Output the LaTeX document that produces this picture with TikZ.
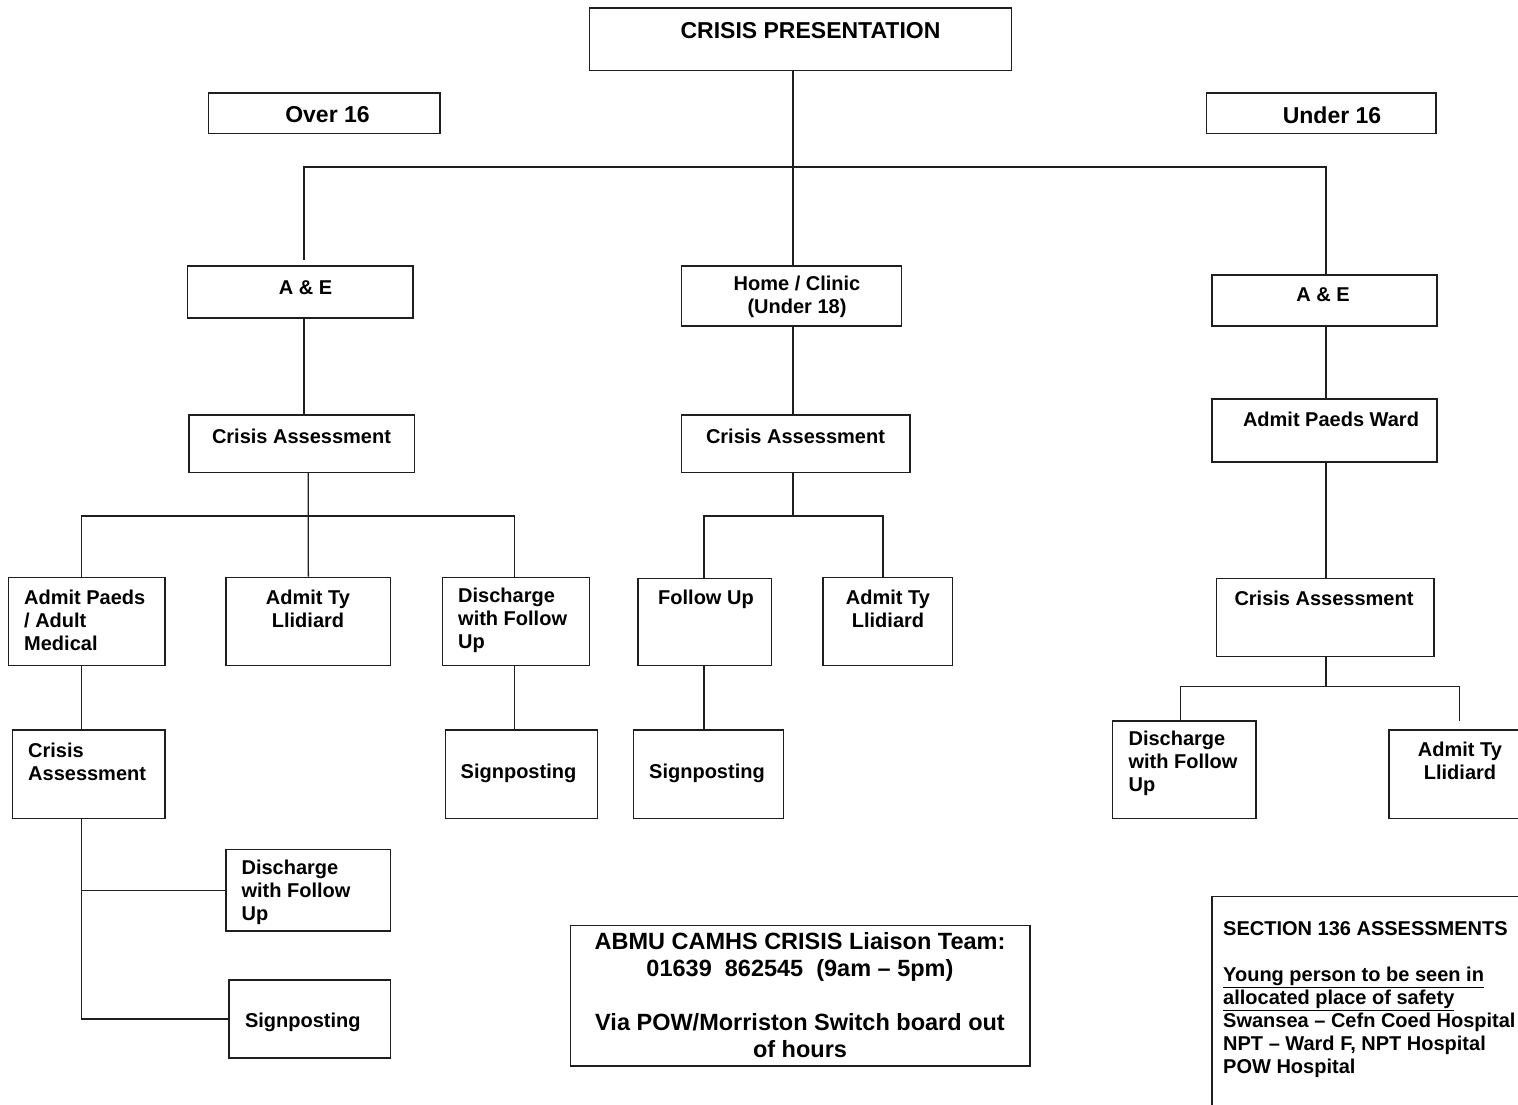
\documentclass[tikz,border=0pt]{standalone}
\usepackage{fontspec}
\setmainfont{Liberation Sans}
\usetikzlibrary{fit}
\tikzset{
  box/.style={draw=black!88, line width=1.4pt, inner sep=0pt},
  wire/.style={draw=black!88, line width=1.3pt},
  txt/.style={inner sep=0pt, align=center, font=\fontsize{20}{23}\selectfont\bfseries},
  txtl/.style={inner sep=0pt, align=left, anchor=west, font=\fontsize{20}{23}\selectfont\bfseries},
  big/.style={inner sep=0pt, align=center, font=\fontsize{23}{27}\selectfont\bfseries},
}
\newcommand\mybox[5]{\node[box, fit={(#2,-#3) (#4,-#5)}] (#1) {};}
\begin{document}
\begin{tikzpicture}[x=1pt,y=1pt]
\clip (0,0) rectangle (1518,-1104);
\fill[white] (0,0) rectangle (1518,-1104);

% boxes
\mybox{cp}{589.5}{7.9}{1011.6}{70.7}
\mybox{over}{208.4}{92.9}{440}{133.2}
\mybox{under}{1206.4}{92.9}{1436}{133.2}
\mybox{aeL}{187.6}{266}{413}{318}
\mybox{home}{681.5}{266}{901.5}{326}
\mybox{aeR}{1212}{275}{1437}{326}
\mybox{caL}{189}{415}{414.5}{472.5}
\mybox{caM}{681.5}{415}{910}{472.5}
\mybox{paedsW}{1212}{399}{1437}{462}
\mybox{apam}{8.7}{577.2}{164.8}{665.5}
\mybox{tyL}{226}{577.2}{390.7}{665.5}
\mybox{discA}{442.6}{577.2}{589.4}{665.5}
\mybox{fu}{638}{578.6}{771.6}{665.5}
\mybox{tyM}{823}{577.2}{952.4}{665.5}
\mybox{caR}{1216.6}{578.6}{1433.8}{656.7}
\mybox{caB}{12.6}{730}{164.8}{818.6}
\mybox{spA}{445.5}{730}{597.7}{818.6}
\mybox{spB}{633.5}{730}{783.3}{818.6}
\mybox{discC}{1112.4}{721}{1255.9}{818.6}
\mybox{tyR}{1389}{730}{1530}{818.6}
\mybox{discB}{226}{849.6}{390.7}{931}
\mybox{spC}{228.8}{980}{390.7}{1058}
\mybox{abmu}{570.5}{925.6}{1030}{1066}
\mybox{sec}{1211.8}{896.3}{1540}{1130}

% texts
\node[big] (tcp) at (810.5,-31) {CRISIS PRESENTATION};
\node[big] (tover) at (327.5,-115) {Over 16};
\node[big] (tunder) at (1332,-115) {Under 16};
\node[txt] (taeL) at (305.5,-288) {A \& E};
\node[txt] (thome) at (797,-297) {Home / Clinic\\(Under 18)};
\node[txt] (taeR) at (1323,-295) {A \& E};
\node[txt] (tcaL) at (301.5,-436) {Crisis Assessment};
\node[txt] (tcaM) at (795.5,-436) {Crisis Assessment};
\node[txt] (tpaedsW) at (1331,-419) {Admit Paeds Ward};
\node[txtl] (tapam) at (24,-620) {Admit Paeds\\/ Adult\\Medical};
\node[txt] (ttyL) at (308,-608.5) {Admit Ty\\Llidiard};
\node[txtl] (tdiscA) at (458,-620) {Discharge\\with Follow\\Up};
\node[txtl] (tfu) at (658,-599) {Follow Up};
\node[txt] (ttyM) at (888,-608.5) {Admit Ty\\Llidiard};
\node[txt] (tcaR) at (1324,-598.4) {Crisis Assessment};
\node[txtl] (tcaB) at (28,-761.5) {Crisis\\Assessment};
\node[txtl] (tspA) at (460.5,-773) {Signposting};
\node[txtl] (tspB) at (649,-773) {Signposting};
\node[txtl] (tdiscC) at (1128.4,-763) {Discharge\\with Follow\\Up};
\node[txt] (ttyR) at (1460,-760.5) {Admit Ty\\Llidiard};
\begin{scope}
\clip (discB.north west) rectangle (discB.south east);
\node[txtl] (tdiscB) at (241.4,-892.8) {Discharge\\with Follow\\Up};
\end{scope}
\node[txtl] (tspC) at (244.8,-1022.8) {Signposting};
\node[inner sep=0pt, align=center, font=\fontsize{23.5}{27}\selectfont\bfseries] (tabmu) at (800,-995)
  {ABMU CAMHS CRISIS Liaison Team:\\01639\ \ 862545\ \ (9am – 5pm)\\[27pt]Via POW/Morriston Switch board out\\of hours};
\node[txtl] (tsec) at (1223,-1000)
  {SECTION 136 ASSESSMENTS\\[23pt]\underline{Young person to be seen in}\\\underline{allocated place of safety}\\Swansea – Cefn Coed Hospital\\NPT – Ward F, NPT Hospital\\POW Hospital};

% connector coordinates
\coordinate (jl) at (304,-167);
\coordinate (jle) at (304,-259.6);
\coordinate (jr) at (1326,-167);
\coordinate (cm) at (793,-516);
\coordinate (bL) at (308.3,-516);
\coordinate (b1) at (81.4,-516);
\coordinate (b2) at (514.3,-516);
\coordinate (m1) at (704,-516);
\coordinate (m2) at (883,-516);
\coordinate (rc) at (1326,-686.4);
\coordinate (r1) at (1180.7,-686.4);
\coordinate (r2) at (1459.5,-686.4);
\coordinate (r2e) at (1459.5,-720.7);

% connectors
\draw[wire] (cm |- cp.south) -- (cm |- home.north);
\draw[wire] (jle) -- (jl) -- (jr) -- (jr |- aeR.north);
\draw[wire] (jl |- aeL.south) -- (jl |- caL.north);
\draw[wire] (bL |- caL.south) -- (bL) -- (tyL.north);
\draw[wire] (b1 |- apam.north) -- (b1) -- (b2) -- (b2 |- discA.north);
\draw[wire] (cm |- home.south) -- (cm |- caM.north);
\draw[wire] (cm |- caM.south) -- (cm);
\draw[wire] (m1 |- fu.north) -- (m1) -- (m2) -- (m2 |- tyM.north);
\draw[wire] (jr |- aeR.south) -- (jr |- paedsW.north);
\draw[wire] (jr |- paedsW.south) -- (jr |- caR.north);
\draw[wire] (jr |- caR.south) -- (rc);
\draw[wire] (r1 |- discC.north) -- (r1) -- (r2) -- (r2e);
\draw[wire] (b1 |- apam.south) -- (b1 |- caB.north);
\draw[wire] (b2 |- discA.south) -- (b2 |- spA.north);
\draw[wire] (m1 |- fu.south) -- (m1 |- spB.north);
\draw[wire] (b1 |- caB.south) -- (b1 |- spC.west) -- (spC.west);
\draw[wire] (b1 |- discB.west) -- (discB.west);
\end{tikzpicture}
\end{document}
